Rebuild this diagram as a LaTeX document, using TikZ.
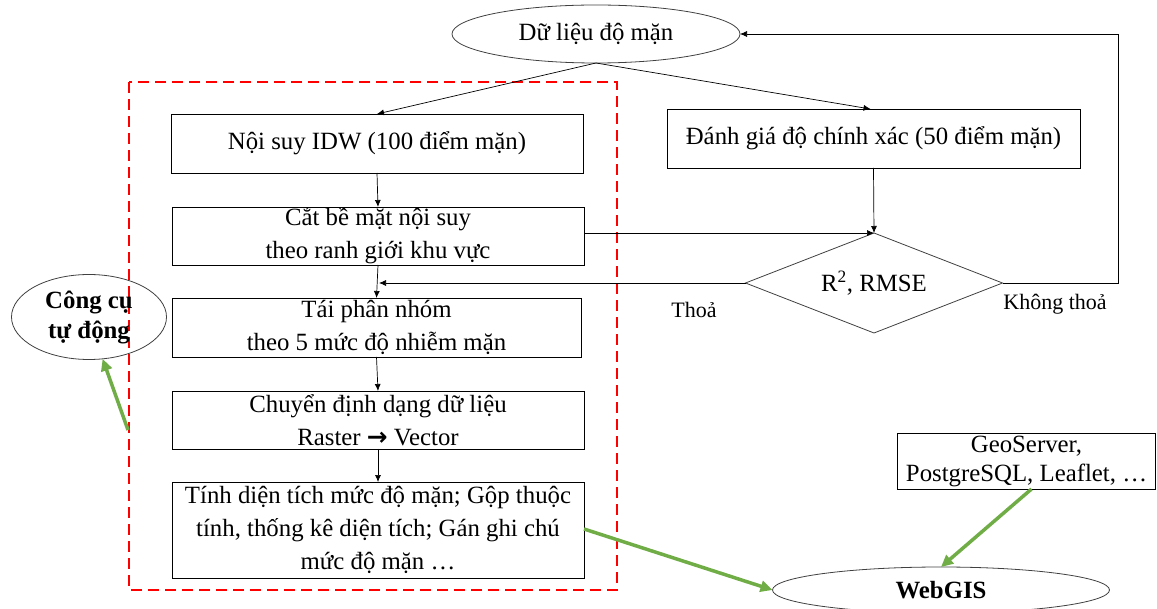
\documentclass[tikz,border=0pt]{standalone}
\usepackage{fontspec}
\setmainfont{Liberation Serif}
\newfontfamily\arrowfont{DejaVu Sans}
\usetikzlibrary{shapes.geometric,arrows.meta}
\tikzset{
  every node/.style={font=\fontsize{24.8}{33}\selectfont, inner sep=0pt, outer sep=0pt},
  procbox/.style={draw, line width=0.8pt, align=center, minimum width=#1, minimum height=58pt},
  oval/.style={draw, ellipse, line width=0.8pt, align=center, draw=black!75},
  flow/.style={draw, line width=0.7pt, -{Latex[length=7pt,width=6pt]}},
  greenarrow/.style={draw=grn, line width=3.5pt, -{Triangle[length=12pt,width=11pt]}},
  lbl/.style={font=\fontsize{22}{26}\selectfont}
}
\definecolor{grn}{RGB}{112,173,71}
\begin{document}
\begin{tikzpicture}[x=1pt,y=-1pt]
\useasboundingbox (0,0) rectangle (1157,609);
% red dashed frame
\draw[red, line width=2.5pt, dash pattern=on 11pt off 6pt] (129,82) rectangle (617,590);
% nodes
\node[oval, minimum width=288pt, minimum height=58pt] (data) at (596,34) {Dữ liệu độ mặn};
\node[procbox=412pt, minimum height=59pt] (idw) at (377,143.5) {Nội suy IDW (100 điểm mặn)};
\node[procbox=413pt, minimum height=59pt] (acc) at (873.5,138.5) {Đánh giá độ chính xác (50 điểm mặn)};
\node[procbox=412pt] (cut) at (378,236) {Cắt bề mặt nội suy\\theo ranh giới khu vực};
\node[draw, diamond, line width=0.8pt, draw=black!75, minimum width=257pt, minimum height=100pt] (dia) at (874,283) {};
\node at (874,283) {R\textsuperscript{2}, RMSE};
\node[procbox=409pt, minimum height=59pt] (re) at (376.5,327.5) {Tái phân nhóm\\theo 5 mức độ nhiễm mặn};
\node[procbox=412pt] (conv) at (378,420) {Chuyển định dạng dữ liệu\\Raster {\arrowfont\bfseries →} Vector};
\node[procbox=412pt, minimum height=96pt] (area) at (378,530) {Tính diện tích mức độ mặn; Gộp thuộc\\tính, thống kê diện tích; Gán ghi chú\\mức độ mặn …};
\node[oval, minimum width=155pt, minimum height=85pt, font=\fontsize{24.8}{30}\selectfont\bfseries] (tool) at (89,317) {Công cụ\\tự động};
\node[oval, minimum width=337pt, minimum height=46pt, font=\fontsize{24.8}{30}\selectfont\bfseries] (web) at (941,590) {WebGIS};
\node[draw, line width=0.8pt, align=center, minimum width=258pt, minimum height=56pt] (geo) at (1026.5,461) {GeoServer,\\[-4pt]PostgreSQL, Leaflet, …};
% labels
\node[lbl] (thoa) at (694,310) {Thoả};
\node[lbl] (khong) at (1055,304) {Không thoả};
% coordinates
\coordinate (thoaEnd) at (379,283);
\coordinate (fbCorner1) at (1118,283);
\coordinate (fbCorner2) at (1118,34);
\coordinate (toolStart) at (128,430);
% connectors
\draw[flow] (data.south) -- (idw.north);
\draw[flow] (data.south) -- ([xshift=-3pt]acc.north);
\draw[flow] (idw.south) -- (cut.north);
\draw[flow] (cut.east |- dia.north) -- (dia.north);
\draw[flow] (acc.south) -- (dia.north);
\draw[flow] (dia.west) -- (thoaEnd);
\draw[flow] (dia.east) -- (fbCorner1) -- (fbCorner2) -- (data.east);
\draw[flow] (cut.south) -- (re.north);
\draw[flow] (re.south) -- (conv.north);
\draw[flow] (conv.south) -- (area.north);
% green arrows
\draw[greenarrow] (toolStart) -- (tool.-72);
\draw[greenarrow] ([yshift=1pt]area.east) -- (web.west);
\draw[greenarrow] ([xshift=5pt]geo.south) -- (web.north);
\end{tikzpicture}
\end{document}
